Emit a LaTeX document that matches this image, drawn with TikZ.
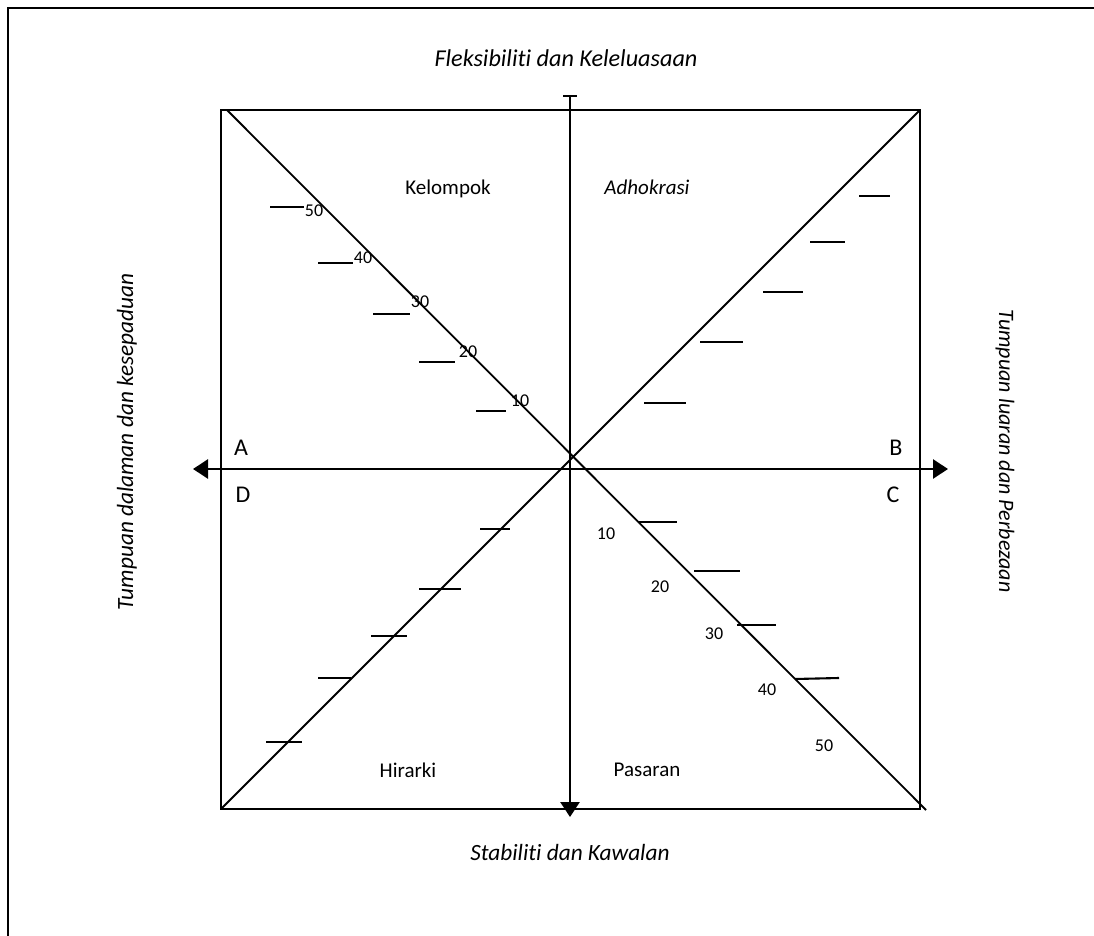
\documentclass[tikz,border=0pt]{standalone}
\usepackage{fontspec}
\setmainfont[Ligatures=NoCommon]{Carlito}
\usetikzlibrary{arrows.meta}
\tikzset{
  frameline/.style={line width=2.6pt},
  boxline/.style={line width=2.4pt},
  diagline/.style={line width=1.8pt},
  axisline/.style={line width=2.6pt},
  tickline/.style={line width=2.1pt},
  lbl/.style={inner sep=0pt, font=\fontsize{21}{25}\selectfont},
  ilbl/.style={inner sep=0pt, font=\fontsize{21}{25}\selectfont\itshape},
  num/.style={inner sep=0pt, font=\fontsize{18}{22}\selectfont},
  corner/.style={inner sep=0pt, font=\fontsize{24}{28}\selectfont},
}
\begin{document}
\begin{tikzpicture}[x=1pt,y=-1pt]
\useasboundingbox (0,0) rectangle (1094,936);
% outer frame (left and top visible)
\draw[frameline] (8,940) -- (8,8) -- (1100,8);
% square
\coordinate (tl) at (221,110);
\coordinate (tr) at (920,110);
\coordinate (br) at (920,809);
\coordinate (bl) at (221,809);
\draw[boxline] (tl) rectangle (br);
% diagonals
\coordinate (d1s) at (227,110);
\coordinate (d1e) at (926,810);
\draw[diagline] (d1s) -- (d1e);
\draw[diagline] (bl) -- (tr);
% axes
\coordinate (xl) at (193,469);
\coordinate (xr) at (948,469);
\coordinate (yt) at (570,95);
\coordinate (yb) at (570,817);
\draw[axisline, {Triangle[length=15pt,width=19pt]}-{Triangle[length=15pt,width=19pt]}] (xl) -- (xr);
\draw[axisline, {Bar[width=14pt,line width=2pt]}-{Triangle[length=15pt,width=19pt]}] (yt) -- (yb);
% ticks upper-left
\draw[tickline] (270,207) -- (304,207);
\draw[tickline] (318,263) -- (353,263);
\draw[tickline] (373,314) -- (410,314);
\draw[tickline] (419,362) -- (455,362);
\draw[tickline] (476,411) -- (506,411);
% ticks upper-right
\draw[tickline] (859,196) -- (890,196);
\draw[tickline] (810,242) -- (845,242);
\draw[tickline] (763,292) -- (803,292);
\draw[tickline] (700,342) -- (743,342);
\draw[tickline] (644,403) -- (686,403);
% ticks lower-left
\draw[tickline] (480,529) -- (510,529);
\draw[tickline] (419,589) -- (461,589);
\draw[tickline] (371,636) -- (407,636);
\draw[tickline] (318,678) -- (351,678);
\draw[tickline] (266,742) -- (302,742);
% ticks lower-right
\draw[tickline] (639,522) -- (677,522);
\draw[tickline] (694,571) -- (740,571);
\draw[tickline] (737,625) -- (776,625);
\draw[tickline] (795,679) -- (839,678);
% numbers upper-left
\node[num] (n50a) at (314,211) {50};
\node[num] (n40a) at (363,258) {40};
\node[num] (n30a) at (420,302) {30};
\node[num] (n20a) at (468,352) {20};
\node[num] (n10a) at (520,401) {10};
% numbers lower-right
\node[num] (n10b) at (606,534) {10};
\node[num] (n20b) at (660,587) {20};
\node[num] (n30b) at (714,634) {30};
\node[num] (n40b) at (767,690) {40};
\node[num] (n50b) at (824,746) {50};
% quadrant names
\node[lbl] (kel) at (448,189) {Kelompok};
\node[ilbl] (adh) at (647,187) {Adhokrasi};
\node[lbl] (hir) at (408,770) {Hirarki};
\node[lbl] (pas) at (647,770) {Pasaran};
% corner letters
\node[corner] (A) at (241,448) {A};
\node[corner] (B) at (896,448) {B};
\node[corner] (D) at (243,495) {D};
\node[corner] (C) at (893,495) {C};
% axis titles
\node[ilbl, font=\fontsize{24.2}{28}\selectfont\itshape] (top) at (566,58) {Fleksibiliti dan Keleluasaan};
\node[ilbl, font=\fontsize{23.3}{28}\selectfont\itshape] (bot) at (570,852) {Stabiliti dan Kawalan};
\node[ilbl, font=\fontsize{23.3}{28}\selectfont\itshape, rotate=90] (left) at (127,442) {Tumpuan dalaman dan kesepaduan};
\node[ilbl, font=\fontsize{22}{26}\selectfont\itshape, rotate=-90] (right) at (1005,451) {Tumpuan luaran dan Perbezaan};
\end{tikzpicture}
\end{document}
